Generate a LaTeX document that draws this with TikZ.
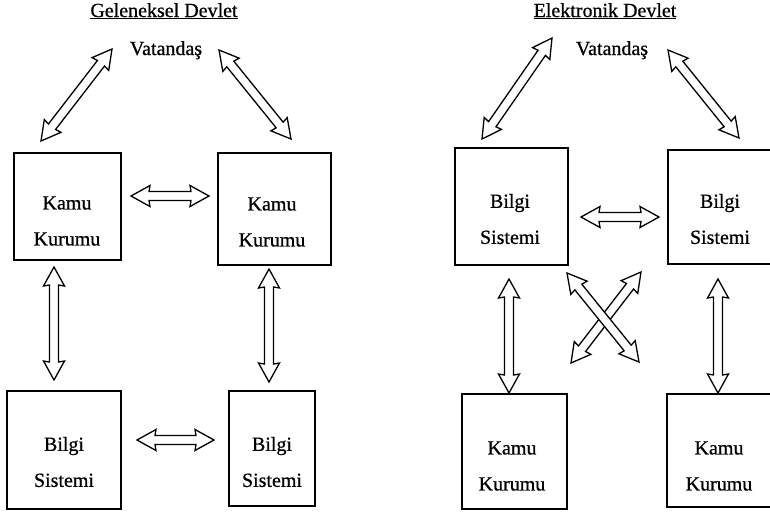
\documentclass[tikz,border=0pt]{standalone}
\usepackage{fontspec}
\setmainfont{Liberation Serif}[FakeBold=0.7]
\usetikzlibrary{calc}

% dimensions of the hollow double arrows
\newcommand\arrHeadLen{19pt}
\newcommand\arrHeadHalf{10.5pt}
\newcommand\arrShaftHalf{4.5pt}

% hollow double-headed block arrow between two named points
\newcommand\dblarrow[2]{%
  \path[darrow] let \p1=($(#2)-(#1)$), \n1={veclen(\x1,\y1)}, \n2={atan2(\y1,\x1)} in
    (#1)
    -- ($(#1)+(\n2:\arrHeadLen)+(\n2+90:\arrHeadHalf)$)
    -- ($(#1)+(\n2:\arrHeadLen-1pt)+(\n2+90:\arrShaftHalf)$)
    -- ($(#1)+(\n2:\n1-\arrHeadLen+1pt)+(\n2+90:\arrShaftHalf)$)
    -- ($(#1)+(\n2:\n1-\arrHeadLen)+(\n2+90:\arrHeadHalf)$)
    -- (#2)
    -- ($(#1)+(\n2:\n1-\arrHeadLen)+(\n2-90:\arrHeadHalf)$)
    -- ($(#1)+(\n2:\n1-\arrHeadLen+1pt)+(\n2-90:\arrShaftHalf)$)
    -- ($(#1)+(\n2:\arrHeadLen-1pt)+(\n2-90:\arrShaftHalf)$)
    -- ($(#1)+(\n2:\arrHeadLen)+(\n2-90:\arrHeadHalf)$)
    -- cycle;}

\tikzset{
  box/.style={draw, line width=1.4pt, rectangle, inner sep=0pt},
  lbl/.style={font=\fontsize{20}{36}\selectfont, align=center, inner sep=0pt},
  ttl/.style={font=\fontsize{20}{24}\selectfont, inner sep=0pt, anchor=base},
  darrow/.style={draw, line width=1.3pt, fill=white, line join=miter},
}

\begin{document}
\begin{tikzpicture}[x=1pt, y=-1pt]
  \fill[white] (0,0) rectangle (770,512);
  \useasboundingbox (0,0) rectangle (770,512);

  % ---------- Geleneksel Devlet ----------
  \node[ttl] (t1) at (164,17) {\underline{Geleneksel Devlet}};
  \node[ttl] (v1) at (166,55) {Vatandaş};

  \node[box, minimum width=107pt, minimum height=107pt] (k1) at (67.5,206.5) {};
  \node[lbl] (k1t) at (67,221) {Kamu\\Kurumu};
  \node[box, minimum width=113pt, minimum height=112pt] (k2) at (274.5,209) {};
  \node[lbl] (k2t) at (272,222) {Kamu\\Kurumu};
  \node[box, minimum width=114pt, minimum height=118pt] (b1) at (64,450) {};
  \node[lbl] (b1t) at (64,462) {Bilgi\\Sistemi};
  \node[box, minimum width=86pt, minimum height=115pt] (b2) at (272,448.5) {};
  \node[lbl] (b2t) at (272,462) {Bilgi\\Sistemi};

  \coordinate (a1s) at (112,49);  \coordinate (a1e) at (41,141);
  \coordinate (a2s) at (219,50);  \coordinate (a2e) at (291,139);
  \coordinate (a3s) at (131,196); \coordinate (a3e) at (209,196);
  \coordinate (a4s) at (54,267);  \coordinate (a4e) at (54,380);
  \coordinate (a5s) at (269,269); \coordinate (a5e) at (269,382);
  \coordinate (a6s) at (137,440); \coordinate (a6e) at (214,440);
  \dblarrow{a1s}{a1e}
  \dblarrow{a2s}{a2e}
  \dblarrow{a3s}{a3e}
  \dblarrow{a4s}{a4e}
  \dblarrow{a5s}{a5e}
  \dblarrow{a6s}{a6e}

  % ---------- Elektronik Devlet ----------
  \node[ttl] (t2) at (605,17) {\underline{Elektronik Devlet}};
  \node[ttl] (v2) at (612,55) {Vatandaş};

  \node[box, minimum width=113pt, minimum height=117pt] (s1) at (511.5,206.5) {};
  \node[lbl] (s1t) at (510,219) {Bilgi\\Sistemi};
  \node[box, minimum width=108pt, minimum height=114pt] (s2) at (722,207) {};
  \node[lbl] (s2t) at (720,219) {Bilgi\\Sistemi};
  \node[box, minimum width=105pt, minimum height=115pt] (m1) at (514.5,451.5) {};
  \node[lbl] (m1t) at (512,466) {Kamu\\Kurumu};
  \node[box, minimum width=109pt, minimum height=113pt] (m2) at (721.5,450.5) {};
  \node[lbl] (m2t) at (719,466) {Kamu\\Kurumu};

  \coordinate (c1s) at (552,38);  \coordinate (c1e) at (482,139);
  \coordinate (c2s) at (668,50);  \coordinate (c2e) at (739,138);
  \coordinate (c3s) at (581,217); \coordinate (c3e) at (659,217);
  \coordinate (c4s) at (509,279); \coordinate (c4e) at (509,393);
  \coordinate (c5s) at (718,279); \coordinate (c5e) at (718,393);
  \coordinate (x2s) at (641,272); \coordinate (x2e) at (571,363);
  \coordinate (x1s) at (567,273); \coordinate (x1e) at (639,362);
  \dblarrow{c1s}{c1e}
  \dblarrow{c2s}{c2e}
  \dblarrow{c3s}{c3e}
  \dblarrow{c4s}{c4e}
  \dblarrow{c5s}{c5e}
  \dblarrow{x2s}{x2e}
  \dblarrow{x1s}{x1e}
\end{tikzpicture}
\end{document}
